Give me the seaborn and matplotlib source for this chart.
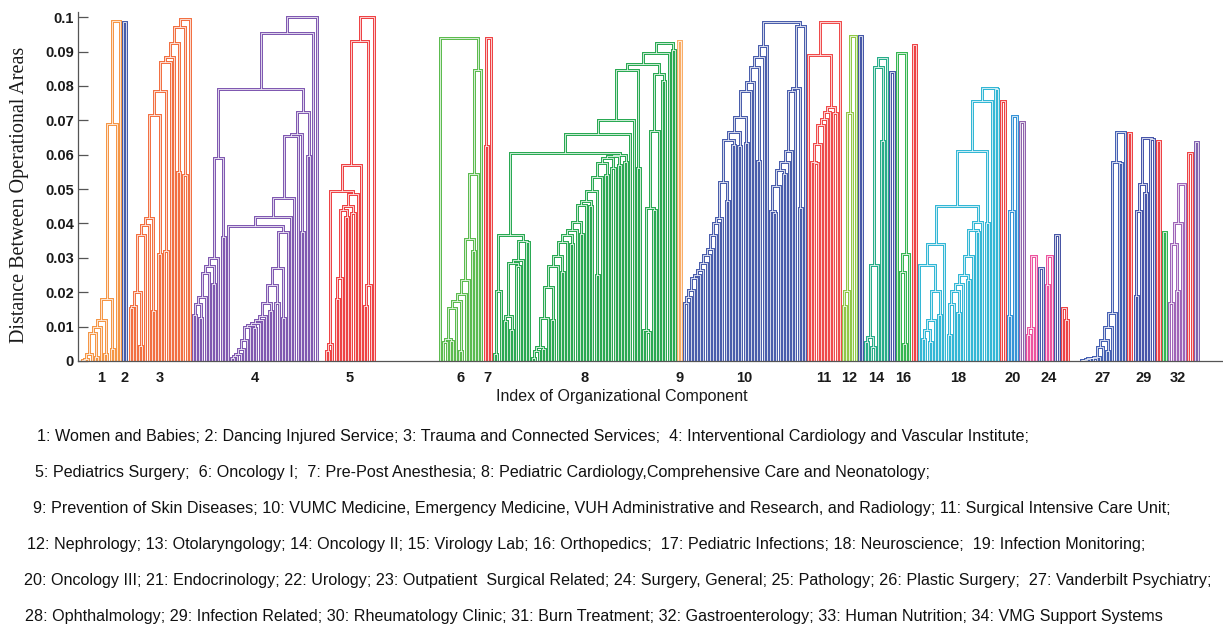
import matplotlib
matplotlib.use("Agg")
import numpy as np
import pandas as pd
import matplotlib.pyplot as plt
import seaborn as sns

# Merge heights.
# *_h : heights of successive merges in a chain (new element added on the right)
# *_p : height of a two-leaf pair added at that step (0 = a single leaf)
c1_start = 0.0003
c1_h = [0.0005, 0.002, 0.008, 0.010, 0.012, 0.018, 0.069, 0.099]
c1_p = [0, 0, 0.0012, 0, 0.002, 0.0035, 0, 0]

c3_start = 0.0155
c3_h = [0.016, 0.020, 0.0365, 0.0395, 0.0415, 0.0715, 0.0785, 0.087, 0.0885, 0.0925, 0.097, 0.0995]
c3_p = [0, 0.0045, 0, 0, 0.0145, 0.031, 0.032, 0, 0, 0.055, 0.054, 0]

c4a_h = [0.0135, 0.0165, 0.0185, 0.0255, 0.0275, 0.030, 0.059]
c4a_p = [0, 0.0125, 0, 0, 0.0225, 0, 0.036]
c4b_h = [0.001, 0.0015, 0.002, 0.0035, 0.006, 0.010, 0.0105, 0.011, 0.012, 0.013, 0.017, 0.022, 0.027, 0.0375]
c4b_p = [0, 0, 0, 0, 0, 0, 0.0095, 0, 0, 0, 0.0145, 0.017, 0.0125, 0]
c4_left = 0.0393
c4_up_h = [0.042, 0.0475, 0.0655, 0.066, 0.0725]
c4_up_p = [0, 0, 0, 0.0375, 0.0595]
c4_top_h = [0.079, 0.0955, 0.1]

c5_l_h = [0.003, 0.005]
c5_m_h = [0.018, 0.024, 0.044, 0.045, 0.0485]
c5_m_p = [0, 0, 0.042, 0.043, 0]
c5_r_h = [0.016, 0.022]
c5_top_h = [0.0495, 0.057, 0.093, 0.1]

c6_h = [0.0055, 0.0065, 0.0155, 0.0175, 0.0195, 0.0235, 0.0355, 0.0545, 0.0845]
c6_p = [0, 0.0058, 0, 0.003, 0, 0, 0.032, 0, 0]
c6_top = 0.094

c7_start = 0.0625
c7_h = [0.094]

c8_e1 = [0.002, 0.0205]
c8e_h = [0.0115, 0.013, 0.0285, 0.0295, 0.035]
c8e_p = [0, 0.009, 0.0275, 0, 0.0345]
c8_ej = 0.0365
c8f_h = [0.001, 0.003, 0.004, 0.0125, 0.0215, 0.0275, 0.0305, 0.0345, 0.0365, 0.038,
         0.0405, 0.0455, 0.0465, 0.0495, 0.0535, 0.0575, 0.059, 0.0595, 0.060]
c8f_p = [0, 0, 0.0035, 0, 0.012, 0, 0.026, 0, 0.034, 0,
         0.037, 0, 0.045, 0.025, 0, 0.054, 0.056, 0.057, 0.058]
c8_ef = 0.0605
c8_mid_h = [0.066, 0.070, 0.0845]
c8_mid_p = [0, 0, 0.056]
c8g_h = [0.009, 0.0445, 0.0668, 0.0835]
c8g_p = [0.0085, 0.044, 0, 0.0815]
c8_gj = 0.0865
c8_top_h = [0.0895, 0.0925]
c8_top_p = [0, 0.0905]

c10l_h = [0.017, 0.0187, 0.0206, 0.024, 0.025, 0.0265, 0.0284, 0.0308, 0.0325, 0.0366, 0.040,
          0.0415, 0.052, 0.0642, 0.0667, 0.071, 0.0785, 0.081, 0.0855, 0.0885, 0.0915]
c10l_p = [0, 0, 0, 0, 0, 0, 0, 0, 0, 0, 0,
          0, 0.0465, 0.0628, 0.0625, 0.0635, 0, 0, 0.0582, 0, 0]
c10r_h = [0.0435, 0.051, 0.0555, 0.058, 0.061, 0.0785, 0.0795, 0.0975]
c10r_p = [0.043, 0, 0.0545, 0, 0, 0, 0.0445, 0]
c10_top = 0.0985

c11_h = [0.058, 0.063, 0.0685, 0.0705, 0.0725]
c11_p = [0.0575, 0, 0, 0, 0]
c11_pair = 0.072
c11_top_h = [0.074, 0.089, 0.0985]

c12_start = 0.016
c12_h = [0.0205, 0.072, 0.0945]

c14_h = [0.0055, 0.007, 0.028, 0.0855, 0.088]
c14_p = [0, 0.004, 0, 0.064, 0]

c16_h = [0.026, 0.031]
c16_p = [0.005, 0]
c16_top = 0.0895

c18a_h = [0.0065, 0.009, 0.012, 0.0205]
c18a_p = [0, 0.0055, 0, 0.0135]
c18a_top = [0.028, 0.034]
c18b_h = [0.0075, 0.0165, 0.0205, 0.0225, 0.025, 0.0305, 0.038, 0.0405]
c18b_p = [0, 0, 0.014, 0, 0.0235, 0, 0.0375, 0]
c18_join = 0.045
c18_top_h = [0.061, 0.0755, 0.0795]
c18_top_p = [0.04, 0, 0.079]

c20_start = 0.013
c20_h = [0.0435, 0.0713]
c22_start = 0.0075
c22_h = [0.0095, 0.0305]
c24_start = 0.0222
c24_h = [0.0305]
c26_h = [0.0155]
c26_p = [0.012]

c27_h = [0.0002, 0.0003, 0.0005, 0.0008, 0.001, 0.0013, 0.004, 0.006, 0.010, 0.014, 0.058, 0.0667]
c27_p = [0, 0, 0, 0, 0, 0, 0, 0.003, 0, 0, 0.0575, 0]

c29_start = 0.019
c29_h = [0.0435, 0.0515, 0.065]
c29_p = [0, 0.049, 0.0645]

c32_start = 0.0168
c32_h = [0.034, 0.04, 0.0515]
c32_p = [0.0205, 0, 0]

# components that are a single tight pair of units
pair_heights = {2: 0.0985, 9: 0.093, 13: 0.0945, 15: 0.084, 17: 0.092, 19: 0.0755,
                21: 0.0695, 23: 0.027, 25: 0.0367, 28: 0.0662, 30: 0.064, 31: 0.0376,
                33: 0.0604, 34: 0.0638}

cluster_colors = ["#f5923e", "#3f55a6", "#f26a3a", "#7b52ae", "#ee3b3d", "#55b848", "#ee3b3d",
                  "#21a64c", "#f9a960", "#4257a9", "#ef4343", "#8cc63f", "#3f51a5", "#1eaa84",
                  "#3f4fa5", "#2cb34a", "#ee3b3d", "#2ab4d4", "#ee3b3d", "#2e8fd6", "#8a5ca8",
                  "#ec4c9a", "#4356a8", "#ec4c9a", "#3f4ea1", "#ee3b3d", "#3e5ab0", "#ee3b3d",
                  "#3f4fa7", "#ee3b3d", "#2bb24c", "#9b5fb5", "#ee3b3d", "#7d5cad"]
tick_components = [1, 2, 3, 4, 5, 6, 7, 8, 9, 10, 11, 12, 14, 16, 18, 20, 24, 27, 29, 32]

caption = [
    "1: Women and Babies; 2: Dancing Injured Service; 3: Trauma and Connected Services;  "
    "4: Interventional Cardiology and Vascular Institute;",
    "5: Pediatrics Surgery;  6: Oncology I;  7: Pre-Post Anesthesia; 8: Pediatric "
    "Cardiology,Comprehensive Care and Neonatology;",
    "9: Prevention of Skin Diseases; 10: VUMC Medicine, Emergency Medicine, VUH Administrative "
    "and Research, and Radiology; 11: Surgical Intensive Care Unit;",
    "12: Nephrology; 13: Otolaryngology; 14: Oncology II; 15: Virology Lab; 16: Orthopedics;  "
    "17: Pediatric Infections; 18: Neuroscience;  19: Infection Monitoring;",
    "20: Oncology III; 21: Endocrinology; 22: Urology; 23: Outpatient  Surgical Related; "
    "24: Surgery, General; 25: Pathology; 26: Plastic Surgery;  27: Vanderbilt Psychiatry;",
    "28: Ophthalmology; 29: Infection Related; 30: Rheumatology Clinic; 31: Burn Treatment; "
    "32: Gastroenterology; 33: Human Nutrition; 34: VMG Support Systems",
]

LEAF = None


def pair(h):
    return (h, LEAF, LEAF)


def join(h, a, b):
    return (h, a, b)


def chain(heights, pairs=None, start=LEAF):
    node = start
    pairs = pairs if pairs is not None else [0] * len(heights)
    for h, p in zip(heights, pairs):
        node = join(h, node, pair(p) if p else LEAF)
    return node


def build_trees():
    trees = {}
    trees[1] = chain(c1_h, c1_p, pair(c1_start))
    trees[3] = chain(c3_h, c3_p, pair(c3_start))

    b = join(c4_left, LEAF, chain(c4b_h, c4b_p))
    b = chain(c4_up_h, c4_up_p, b)
    t = join(c4_top_h[0], chain(c4a_h, c4a_p), b)
    trees[4] = chain(c4_top_h[1:], None, t)

    t = join(c5_top_h[0], chain(c5_l_h), chain(c5_m_h, c5_m_p))
    t = join(c5_top_h[1], t, LEAF)
    t = join(c5_top_h[2], t, chain(c5_r_h))
    trees[5] = join(c5_top_h[3], t, LEAF)

    trees[6] = join(c6_top, LEAF, chain(c6_h, c6_p))
    trees[7] = chain(c7_h, None, pair(c7_start))

    e = join(c8_ej, join(c8_e1[1], pair(c8_e1[0]), LEAF), chain(c8e_h, c8e_p))
    t = join(c8_ef, e, chain(c8f_h, c8f_p))
    t = chain(c8_mid_h, c8_mid_p, t)
    t = join(c8_gj, t, chain(c8g_h, c8g_p))
    trees[8] = chain(c8_top_h, c8_top_p, t)

    trees[10] = join(c10_top, chain(c10l_h, c10l_p), chain(c10r_h, c10r_p))

    t = join(c11_top_h[0], chain(c11_h, c11_p), pair(c11_pair))
    t = join(c11_top_h[1], LEAF, t)
    trees[11] = join(c11_top_h[2], t, LEAF)

    trees[12] = chain(c12_h, None, pair(c12_start))
    trees[14] = chain(c14_h, c14_p)
    trees[16] = join(c16_top, LEAF, chain(c16_h, c16_p))

    a = join(c18a_top[0], LEAF, chain(c18a_h, c18a_p))
    a = join(c18a_top[1], a, LEAF)
    t = join(c18_join, a, chain(c18b_h, c18b_p))
    trees[18] = chain(c18_top_h, c18_top_p, t)

    trees[20] = chain(c20_h, None, pair(c20_start))
    trees[22] = chain(c22_h, None, pair(c22_start))
    trees[24] = chain(c24_h, None, pair(c24_start))
    trees[26] = chain(c26_h, c26_p)
    trees[27] = chain(c27_h, c27_p)
    trees[29] = chain(c29_h, c29_p, pair(c29_start))
    trees[32] = chain(c32_h, c32_p, pair(c32_start))

    for k, h in pair_heights.items():
        trees[k] = pair(h)
    return [trees[k] for k in range(1, 35)]


def layout(node, pos, segs, name):
    # MATLAB style: leaves in order, a merge sits midway between its two children
    if node is None:
        x = pos[0]
        pos[0] += 1
        return x, 0.0
    h, a, b = node
    xa, ha = layout(a, pos, segs, name)
    xb, hb = layout(b, pos, segs, name)
    segs.append((name, xa, ha, xb, hb, h))
    return (xa + xb) / 2.0, h


# extra empty leaf slots after some components
gap_after = {4: 2, 5: 20, 26: 3}

trees = build_trees()
pos = [0.0]
segs = []
centers = {}
for i, tree in enumerate(trees, start=1):
    first = pos[0]
    layout(tree, pos, segs, f"c{i}")
    centers[i] = (first + pos[0] - 1) / 2.0
    pos[0] += gap_after.get(i, 0)
last_leaf = pos[0] - 1 - gap_after.get(34, 0)

rows = []
for k, (name, xa, ha, xb, hb, h) in enumerate(segs):
    for x, y in ((xa, ha), (xa, h), (xb, h), (xb, hb)):
        rows.append((k, name, x, y))
df = pd.DataFrame(rows, columns=["seg", "cluster", "x", "y"])
palette = {f"c{i}": c for i, c in enumerate(cluster_colors, start=1)}

sns.set_theme(style="ticks")
plt.rcParams["font.family"] = ["Liberation Sans", "DejaVu Sans"]

W, H = 1223, 629
fig = plt.figure(figsize=(W / 100, H / 100), dpi=100)
ax_left, ax_right, ax_bottom, ax_top = 78, 1222, 361, 12
ax = fig.add_axes([ax_left / W, 1 - ax_bottom / H, (ax_right - ax_left) / W, (ax_bottom - ax_top) / H])

sns.lineplot(data=df, x="x", y="y", units="seg", estimator=None, sort=False,
             hue="cluster", palette=palette, linewidth=2.1, legend=False, ax=ax,
             solid_capstyle="butt", solid_joinstyle="miter")
sns.lineplot(data=df, x="x", y="y", units="seg", estimator=None, sort=False,
             color="white", linewidth=0.6, alpha=0.9, legend=False, ax=ax,
             solid_capstyle="butt", solid_joinstyle="miter")

# leaves span roughly pixels 82..1198 in the reference
px_per_leaf = (1198 - 82) / last_leaf
x0 = -(82 - ax_left) / px_per_leaf
ax.set_xlim(x0, x0 + (ax_right - ax_left) / px_per_leaf)
ax.set_ylim(0, 0.1015)

yt = np.round(np.arange(0, 0.1001, 0.01), 2)
ax.set_yticks(yt)
ax.set_yticklabels(["0" if v == 0 else f"{v:g}" for v in yt])
ax.set_xticks([centers[i] for i in tick_components])
ax.set_xticklabels([str(i) for i in tick_components])
ax.tick_params(axis="y", direction="in", length=7, width=0.9, color="#555555",
               labelsize=10.5, pad=3, labelcolor="#1a1a1a")
ax.tick_params(axis="x", length=0, labelsize=10.5, pad=7, labelcolor="#1a1a1a")
for lab in ax.get_xticklabels() + ax.get_yticklabels():
    lab.set_fontweight("bold")
ax.set_xlabel("")
ax.set_ylabel("")
sns.despine(ax=ax)
for side in ("left", "bottom"):
    ax.spines[side].set_color("#555555")
    ax.spines[side].set_linewidth(0.9)

fig.text(622 / W, 1 - 396 / H, "Index of Organizational Component", ha="center", va="center",
         fontsize=11.5, color="#1a1a1a")
fig.text(20 / W, 1 - 195 / H, "Distance Between Operational Areas", rotation=90,
         ha="center", va="center", fontsize=14.5, family=["Liberation Serif", "DejaVu Serif"],
         color="#1a1a1a")

caption_x = [37, 35, 33, 27, 24, 25]
caption_y = [436, 472, 508, 545, 581, 617]
for text, cx, cy in zip(caption, caption_x, caption_y):
    fig.text(cx / W, 1 - cy / H, text, ha="left", va="center", fontsize=11.6, color="#111111")

fig.savefig("out.png", dpi=100)
